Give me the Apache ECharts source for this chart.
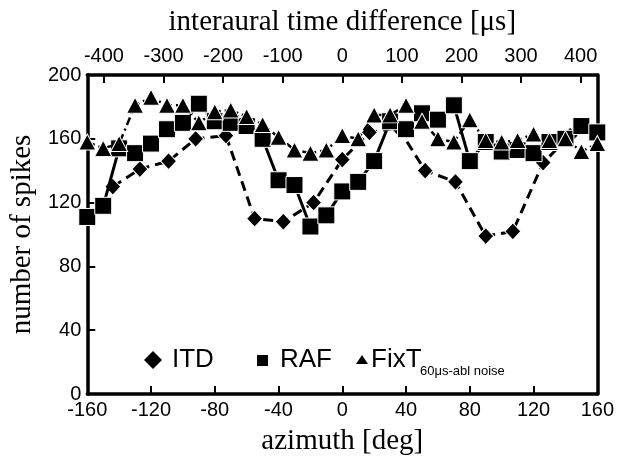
<!DOCTYPE html>
<html>
<head>
<meta charset="utf-8">
<script src="https://cdn.jsdelivr.net/npm/echarts@6/dist/echarts.min.js"></script>
<style>html,body{margin:0;padding:0;background:#fff}#c{width:617px;height:461px}</style>
</head>
<body>
<div id="c"></div>
<script>
// ---- data ----
const azimuth = [-160,-150,-140,-130,-120,-110,-100,-90,-80,-70,-60,-50,-40,-30,-20,-10,0,10,20,30,40,50,60,70,80,90,100,110,120,130,140,150,160];
const rafSpikes = [111,118,154,151,157,166,170,182,171,170,168,160,134,131,105,112,127,133,146,171,166,176,172,181,146,158,152,153,151,158,160,168,164];
const fixtSpikes = [158,154,157,181,186,181,181,170,177,178,174,169,161,153,151,153,162,160,175,175,181,171,160,158,172,159,158,159,163,159,160,152,157];
const itdAzimuth = [-144,-127,-109,-92,-73,-55,-37,-18,0,17,35,52,71,90,107,126,143];
const itdSpikes = [130,141,146,160,162,110,108,120,147,164,167,140,133,99,102,145,162];
const itdTicks = [-400,-300,-200,-100,0,100,200,300,400];
const azTicks = [-160,-120,-80,-40,0,40,80,120,160];
const spikeTicks = [0,40,80,120,160,200];

const pairs = (xs, ys) => xs.map((x, i) => [x, ys[i]]);

const chart = echarts.init(document.getElementById('c'), null, {renderer: 'canvas'});
const labelFont = {color: '#000', fontSize: 20, fontFamily: 'Liberation Sans, Arial, sans-serif'};
const titleFont = {color: '#000', fontSize: 29, fontFamily: 'Liberation Serif, Times New Roman, serif'};
const lineStyle = {color: '#000', width: 3.5};

chart.setOption({
  animation: false,
  backgroundColor: '#fff',
  grid: {left: 84, right: 16, top: 75, bottom: 64, containLabel: false},
  xAxis: [{
    type: 'value', position: 'bottom', min: -160, max: 160, interval: 40,
    axisLine: {show: true, onZero: false, lineStyle},
    axisTick: {show: true, inside: true, length: 8, lineStyle: {color: '#000', width: 2}},
    axisLabel: Object.assign({margin: 6}, labelFont),
    splitLine: {show: false},
    name: 'azimuth [deg]', nameLocation: 'middle', nameGap: 33, nameTextStyle: titleFont
  }, {
    type: 'value', position: 'top', min: -428, max: 428,
    axisLine: {show: true, onZero: false, lineStyle},
    axisTick: {show: true, inside: true, length: 8, lineStyle: {color: '#000', width: 2}, customValues: itdTicks},
    axisLabel: Object.assign({margin: 9, customValues: itdTicks}, labelFont),
    splitLine: {show: false},
    name: 'interaural time difference [μs]', nameLocation: 'middle', nameGap: 38, nameTextStyle: titleFont
  }],
  yAxis: [{
    type: 'value', position: 'left', min: 0, max: 200, interval: 40,
    axisLine: {show: true, onZero: false, lineStyle},
    axisTick: {show: true, inside: true, length: 8, lineStyle: {color: '#000', width: 2}},
    axisLabel: Object.assign({margin: 6}, labelFont),
    splitLine: {show: false},
    name: 'number of spikes', nameLocation: 'middle', nameGap: 44, nameTextStyle: titleFont
  }, {
    type: 'value', position: 'right', min: 0, max: 200,
    axisLine: {show: true, onZero: false, lineStyle},
    axisTick: {show: false}, axisLabel: {show: false}, splitLine: {show: false}
  }],
  series: [{
    name: 'ITD', type: 'line', xAxisIndex: 0, yAxisIndex: 0,
    data: pairs(itdAzimuth, itdSpikes),
    symbol: 'diamond', symbolSize: [16, 17],
    itemStyle: {color: '#000', borderColor: '#fff', borderWidth: 1},
    lineStyle: {color: '#000', width: 3, type: [10, 6]},
    z: 2
  }, {
    name: 'RAF', type: 'line', xAxisIndex: 0, yAxisIndex: 0,
    data: pairs(azimuth, rafSpikes),
    symbol: 'rect', symbolSize: 17,
    itemStyle: {color: '#000', borderColor: '#fff', borderWidth: 1},
    lineStyle: {color: '#000', width: 3, type: 'solid'},
    z: 3
  }, {
    name: 'FixT', type: 'line', xAxisIndex: 0, yAxisIndex: 0,
    data: pairs(azimuth, fixtSpikes),
    symbol: 'triangle', symbolSize: [17, 16],
    itemStyle: {color: '#000', borderColor: '#fff', borderWidth: 1},
    lineStyle: {color: '#000', width: 2.5, type: [8, 4, 2, 4]},
    z: 4
  }],
  graphic: [
    {type: 'polygon', shape: {points: [[153,351],[162,360],[153,369],[144,360]]}, style: {fill: '#000'}},
    {type: 'text', left: 172, top: 347, style: {text: 'ITD', fill: '#000', font: '26px Liberation Sans, Arial, sans-serif'}},
    {type: 'rect', shape: {x: 257, y: 355, width: 11, height: 11}, style: {fill: '#000'}},
    {type: 'text', left: 280, top: 347, style: {text: 'RAF', fill: '#000', font: '26px Liberation Sans, Arial, sans-serif'}},
    {type: 'polygon', shape: {points: [[362,355],[368,364],[356,364]]}, style: {fill: '#000'}},
    {type: 'text', left: 371, top: 347, style: {text: 'FixT', fill: '#000', font: '26px Liberation Sans, Arial, sans-serif'}},
    {type: 'text', left: 420, top: 365, style: {text: '60μs-abl noise', fill: '#000', font: '13px Liberation Sans, Arial, sans-serif'}}
  ]
});
</script>
</body>
</html>
